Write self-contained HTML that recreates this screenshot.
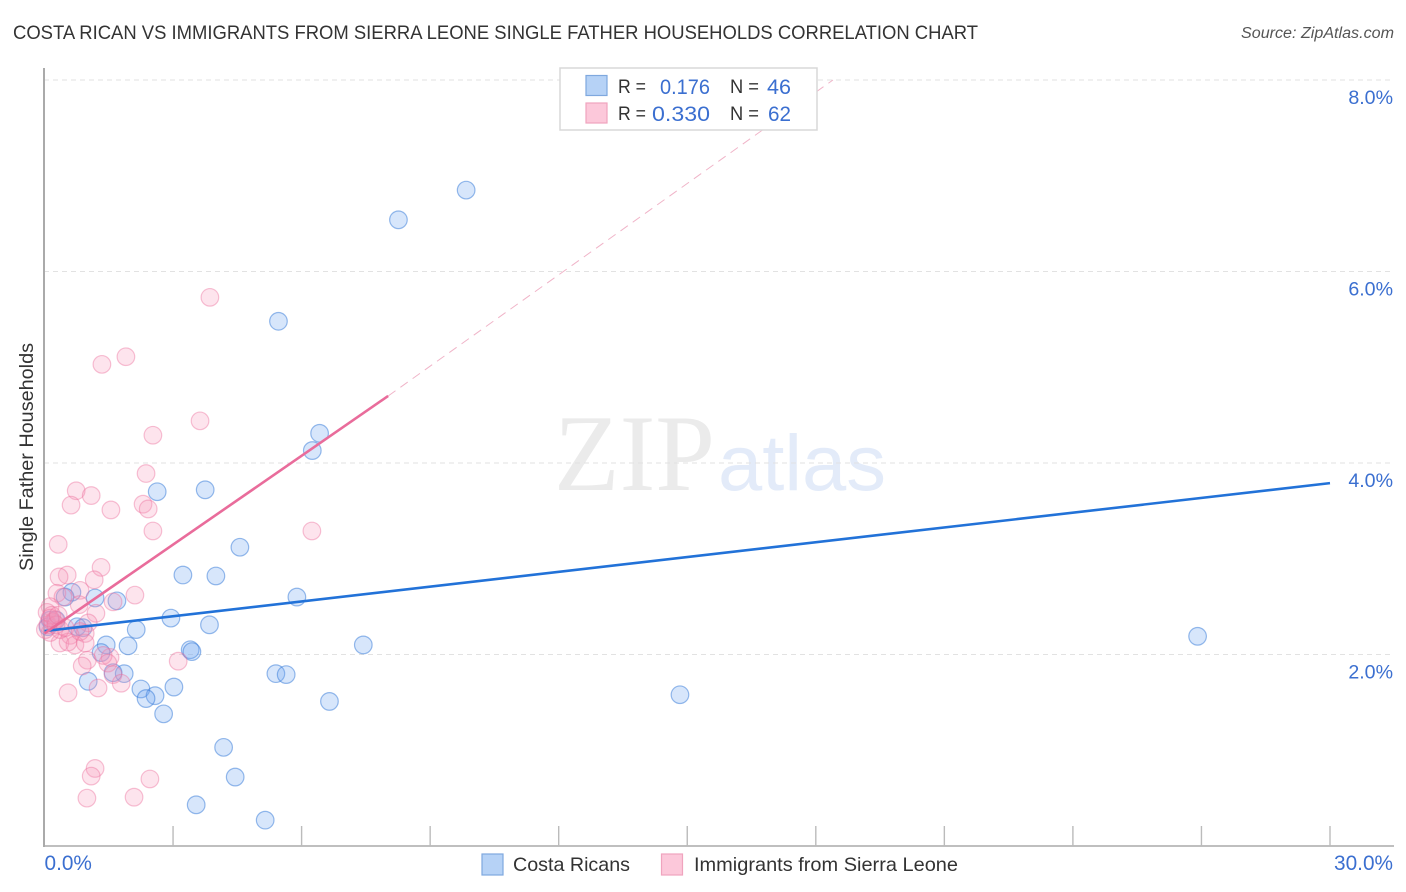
<!DOCTYPE html>
<html lang="en">
<head>
<meta charset="utf-8">
<title>Costa Rican vs Immigrants from Sierra Leone Single Father Households Correlation Chart</title>
<style>
html,body{margin:0;padding:0;background:#fff;}
svg{display:block;font-family:"Liberation Sans",sans-serif;}
</style>
</head>
<body>
<svg id="chart" xmlns="http://www.w3.org/2000/svg" width="1406" height="892" viewBox="0 0 1406 892">
  <rect x="0" y="0" width="1406" height="892" fill="#ffffff"/>
  <text x="13" y="39" font-size="19.5" fill="#333333" textLength="965" lengthAdjust="spacingAndGlyphs">COSTA RICAN VS IMMIGRANTS FROM SIERRA LEONE SINGLE FATHER HOUSEHOLDS CORRELATION CHART</text>
  <text x="1241" y="38" font-size="15.5" font-style="italic" fill="#555555" textLength="153" lengthAdjust="spacingAndGlyphs">Source: ZipAtlas.com</text>
  <text x="554" y="490" font-size="109" font-family="'Liberation Serif',serif" fill="#ebebeb" textLength="161" lengthAdjust="spacingAndGlyphs">ZIP</text>
  <text x="718" y="490" font-size="79" font-family="'Liberation Sans',sans-serif" fill="#e3ebf9" textLength="168" lengthAdjust="spacingAndGlyphs">atlas</text>
  <g id="grid"></g>
  <g id="axes"></g>
  <g id="blue-points"></g>
  <g id="pink-points"></g>
  <g id="trends"></g>
  <text transform="translate(33,457) rotate(-90)" font-size="19" fill="#333333" text-anchor="middle" textLength="228" lengthAdjust="spacingAndGlyphs">Single Father Households</text>

  <g>
    <rect x="560" y="68" width="257" height="62" fill="#ffffff" stroke="#d8d8d8" stroke-width="1.5"/>
    <rect x="586" y="75.5" width="21" height="20" fill="#b6d2f6" stroke="#7fa8de" stroke-width="1.2"/>
    <rect x="586" y="103" width="21" height="20" fill="#fcc8da" stroke="#f0a4be" stroke-width="1.2"/>
    <text x="618" y="93" font-size="19.5" fill="#333333" textLength="28" lengthAdjust="spacingAndGlyphs">R =</text>
    <text x="660" y="94" font-size="21.5" fill="#3b6fd0" textLength="50" lengthAdjust="spacingAndGlyphs">0.176</text>
    <text x="730" y="93" font-size="19.5" fill="#333333" textLength="29" lengthAdjust="spacingAndGlyphs">N =</text>
    <text x="767" y="94" font-size="21.5" fill="#3b6fd0" textLength="24" lengthAdjust="spacingAndGlyphs">46</text>
    <text x="618" y="120" font-size="19.5" fill="#333333" textLength="28" lengthAdjust="spacingAndGlyphs">R =</text>
    <text x="652" y="121" font-size="21.5" fill="#3b6fd0" textLength="58" lengthAdjust="spacingAndGlyphs">0.330</text>
    <text x="730" y="120" font-size="19.5" fill="#333333" textLength="29" lengthAdjust="spacingAndGlyphs">N =</text>
    <text x="768" y="121" font-size="21.5" fill="#3b6fd0" textLength="23" lengthAdjust="spacingAndGlyphs">62</text>
  </g>

  <g>
    <rect x="482" y="854" width="21" height="21" fill="#b6d2f6" stroke="#7fa8de" stroke-width="1.2"/>
    <text x="513" y="871" font-size="19.5" fill="#333333" textLength="117" lengthAdjust="spacingAndGlyphs">Costa Ricans</text>
    <rect x="661.5" y="854" width="21" height="21" fill="#fcc8da" stroke="#f0a4be" stroke-width="1.2"/>
    <text x="694" y="871" font-size="19.5" fill="#333333" textLength="264" lengthAdjust="spacingAndGlyphs">Immigrants from Sierra Leone</text>
  </g>
</svg>
<script>
const blueX = [9.84,8.26,5.46,6.42,6.25,2.63,3.75,4.56,3.23,4.00,5.89,1.18,1.69,2.95,3.85,2.14,7.44,1.95,1.44,3.40,3.44,1.32,5.40,5.64,1.86,1.60,1.02,2.25,3.02,2.58,2.37,6.65,14.83,2.78,4.18,4.45,3.54,5.15,26.91,0.64,0.48,0.76,0.90,0.13,0.27,0.08];
const blueY = [6.85,6.54,5.48,4.31,4.13,3.70,3.72,3.12,2.83,2.82,2.60,2.59,2.56,2.38,2.31,2.26,2.10,2.09,2.10,2.05,2.03,2.02,1.80,1.79,1.80,1.81,1.72,1.64,1.66,1.57,1.54,1.51,1.58,1.38,1.03,0.72,0.43,0.27,2.19,2.65,2.60,2.29,2.28,2.36,2.36,2.29];
const pinkX = [3.86,1.90,1.34,3.63,2.53,2.37,0.74,1.09,0.62,1.55,2.30,2.42,2.53,6.24,0.32,1.32,0.53,0.34,1.16,2.11,0.29,0.83,0.43,1.60,0.81,1.20,0.13,0.06,0.20,1.02,0.95,0.60,0.36,0.71,0.95,0.55,1.00,0.88,1.53,1.37,1.48,1.60,1.79,1.25,0.55,3.12,1.18,1.09,0.99,2.46,2.09,0.13,0.25,0.08,0.17,0.02,0.36,0.48,0.27,0.83,0.13,0.32];
const pinkY = [5.73,5.11,5.03,4.44,4.29,3.89,3.71,3.66,3.56,3.51,3.57,3.52,3.29,3.29,3.15,2.91,2.83,2.81,2.78,2.62,2.64,2.67,2.60,2.55,2.52,2.43,2.50,2.44,2.34,2.33,2.22,2.20,2.12,2.10,2.12,2.13,1.94,1.88,1.97,1.99,1.91,1.79,1.70,1.65,1.60,1.93,0.81,0.73,0.50,0.70,0.51,2.23,2.36,2.31,2.41,2.26,2.26,2.28,2.31,2.24,2.38,2.41];
const yTickValues = [2,4,6,8];
const yTickLabels = ["2.0%","4.0%","6.0%","8.0%"];
const xTickValues = [3,6,9,12,15,18,21,24,27,30];
const xEndValues = [0,30];
const xEndLabels = ["0.0%","30.0%"];
const blueTrendX = [0,30];
const blueTrendY = [2.245,3.79];
const pinkSolidX = [0,8.02];
const pinkSolidY = [2.22,4.70];
const pinkDashX = [8.02,18.4];
const pinkDashY = [4.70,8.0];

const NS = 'http://www.w3.org/2000/svg';
const xScale = v => 44.5 + v * 42.85;
const yScale = v => 846 - v * 95.75;
function make(tag, parent, attrs) {
  const el = document.createElementNS(NS, tag);
  for (const k in attrs) el.setAttribute(k, attrs[k]);
  parent.appendChild(el);
  return el;
}
const grid = document.getElementById('grid');
const axes = document.getElementById('axes');
const bluePts = document.getElementById('blue-points');
const pinkPts = document.getElementById('pink-points');
const trends = document.getElementById('trends');

yTickValues.forEach((v, i) => {
  const g = make('line', grid, {x1:44, x2:1393, y1:yScale(v), y2:yScale(v), stroke:'#e2e2e2', 'stroke-width':1, 'stroke-dasharray':'5 4'});
  
  
  const t = make('text', axes, {x:1393, y:yScale(v) + 24, 'font-size':19.6, fill:'#3b6fd0', 'text-anchor':'end'});
  t.textContent = yTickLabels[i];
  
  
});

const yAxis = make('line', axes, {x1:44, x2:44, y1:68, y2:847, stroke:'#aaaaaa', 'stroke-width':2});


const xAxis = make('line', axes, {x1:43, x2:1394, y1:846, y2:846, stroke:'#aaaaaa', 'stroke-width':1.6});



xTickValues.forEach(v => {
  const t = make('line', axes, {x1:xScale(v), x2:xScale(v), y1:826, y2:846, stroke:'#bbbbbb', 'stroke-width':1.4});
  
  
});
xEndValues.forEach((v, i) => {
  const t = make('text', axes, {x: i === 0 ? xScale(v) : 1393, y:870, 'font-size':20.8, fill:'#3b6fd0', 'text-anchor': i === 0 ? 'start' : 'end'});
  t.textContent = xEndLabels[i];
  
  
});

blueX.forEach((v, i) => {
  const c = make('circle', bluePts, {cx:xScale(v), cy:yScale(blueY[i]), r:8.8, fill:'rgba(110,165,240,0.28)', stroke:'rgba(50,120,215,0.5)', 'stroke-width':1.2});
  
  
});
pinkX.forEach((v, i) => {
  const c = make('circle', pinkPts, {cx:xScale(v), cy:yScale(pinkY[i]), r:8.8, fill:'rgba(248,150,185,0.26)', stroke:'rgba(235,110,155,0.42)', 'stroke-width':1.2});
  
  
});

const tb = make('line', trends, {x1:xScale(blueTrendX[0]), y1:yScale(blueTrendY[0]), x2:xScale(blueTrendX[1]), y2:yScale(blueTrendY[1]), stroke:'#2272d8', 'stroke-width':2.6});


const tp = make('line', trends, {x1:xScale(pinkSolidX[0]), y1:yScale(pinkSolidY[0]), x2:xScale(pinkSolidX[1]), y2:yScale(pinkSolidY[1]), stroke:'#e96c9b', 'stroke-width':2.6});


const td = make('line', trends, {x1:xScale(pinkDashX[0]), y1:yScale(pinkDashY[0]), x2:xScale(pinkDashX[1]), y2:yScale(pinkDashY[1]), stroke:'#f0b4c8', 'stroke-width':1, 'stroke-dasharray':'9 6'});


</script>
</body>
</html>
